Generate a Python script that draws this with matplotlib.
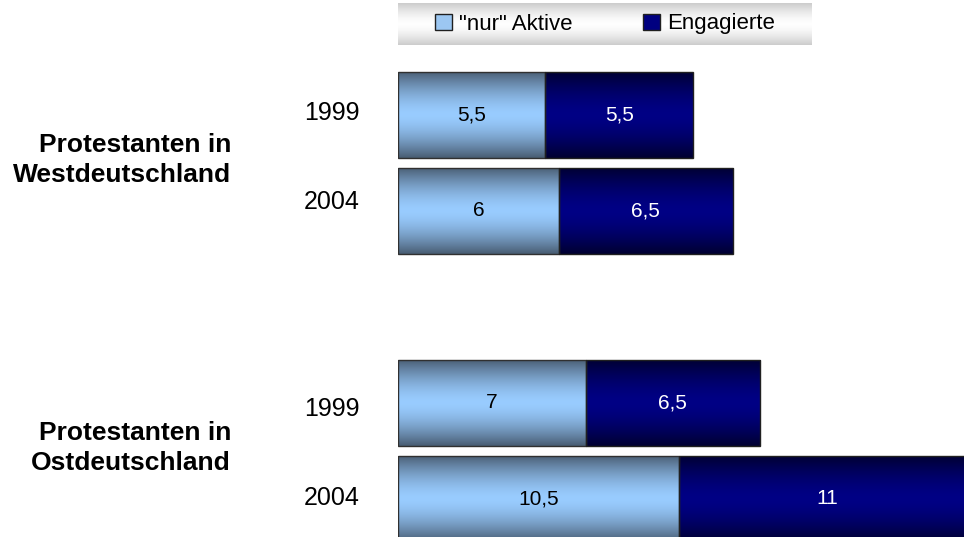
import numpy as np
import matplotlib
matplotlib.use("Agg")
import matplotlib.pyplot as plt
from matplotlib.patches import Patch

plt.rcParams['font.family'] = ['Liberation Sans', 'DejaVu Sans']

groups = ["Protestanten in\nWestdeutschland", "Protestanten in\nOstdeutschland"]
years = ["1999", "2004", "1999", "2004"]
nur_aktive = [5.5, 6, 7, 10.5]
engagierte = [5.5, 6.5, 6.5, 11]
series_names = ['"nur" Aktive', 'Engagierte']

light_center = np.array([0x99, 0xCC, 0xFF]) / 255
light_edge = np.array([0x48, 0x5C, 0x72]) / 255
dark_center = np.array([0x00, 0x00, 0x85]) / 255
dark_edge = np.array([0x00, 0x00, 0x30]) / 255


def gradient(center, edge, n=200):
    t = np.abs(np.linspace(-1, 1, n))
    t = t ** 1.6
    img = center[None, :] * (1 - t[:, None]) + edge[None, :] * t[:, None]
    return img[:, None, :]


W, H = 964, 537
fig = plt.figure(figsize=(W / 100, H / 100), dpi=100)

# bar positions: two groups of two, gap between groups
pos = np.array([0, 1, 3, 4])
ax = fig.add_axes([398 / W, 0, 566 / W, 1])
ax.set_xlim(0, 566 / 26.8)
ax.set_ylim((537 - 115) / 96, -115 / 96)
ax.axis("off")

h = 0.9
b1 = ax.barh(pos, nur_aktive, height=h, color=light_center, edgecolor="#303030", linewidth=1)
b2 = ax.barh(pos, engagierte, left=nur_aktive, height=h, color=dark_center, edgecolor="#202020", linewidth=1)

for bars, c, e in [(b1, light_center, light_edge), (b2, dark_center, dark_edge)]:
    for r in bars:
        x0, y0 = r.get_x(), r.get_y()
        im = ax.imshow(gradient(c, e), extent=[x0, x0 + r.get_width(), y0 + r.get_height(), y0],
                       aspect="auto", zorder=r.get_zorder() + 0.1, interpolation="bilinear")
        im.set_clip_path(r)
        # border on top of the gradient
        r.set_zorder(r.get_zorder() + 0.2)
        r.set_facecolor("none")

for i in range(len(pos)):
    ax.text(nur_aktive[i] / 2, pos[i], f"{nur_aktive[i]:g}".replace(".", ","),
            ha="center", va="center", fontsize=15, color="black", zorder=5)
    ax.text(nur_aktive[i] + engagierte[i] / 2, pos[i], f"{engagierte[i]:g}".replace(".", ","),
            ha="center", va="center", fontsize=15, color="white", zorder=5)

# year labels
year_off = [-0.02, -0.09, 0.06, -0.01]
for i, y in enumerate(years):
    ax.text(-38 / 26.8, pos[i] + year_off[i], y, ha="right", va="center", fontsize=18,
            clip_on=False)

# group labels
for g, label in enumerate(groups):
    yc = (pos[2 * g] + pos[2 * g + 1]) / 2 - 0.03
    ax.text(-167 / 26.8, yc, label, ha="right", va="center", fontsize=19,
            fontweight="bold", linespacing=1.35, clip_on=False)

# legend background with gray gradient
lax = fig.add_axes([398 / W, 1 - 45 / H, (812 - 398) / W, 42 / H])
t = np.abs(np.linspace(-1, 1, 100)) ** 1.5
gray = 1 - 0.2 * t
lax.imshow(np.repeat(gray[:, None, None], 3, axis=2), aspect="auto",
           extent=[0, 1, 0, 1], interpolation="bilinear")
lax.axis("off")

handles = [Patch(facecolor=light_center * 0.85 + 0.1, edgecolor="#202020", linewidth=1),
           Patch(facecolor="#000080", edgecolor="#202020", linewidth=1)]
fig.legend(handles, series_names, loc="center", bbox_to_anchor=(605 / W, 1 - 24 / H),
           ncol=2, frameon=False, fontsize=16, handlelength=0.75, handleheight=0.75,
           handletextpad=0.3, columnspacing=3.2)

fig.savefig("out.png", dpi=100)
